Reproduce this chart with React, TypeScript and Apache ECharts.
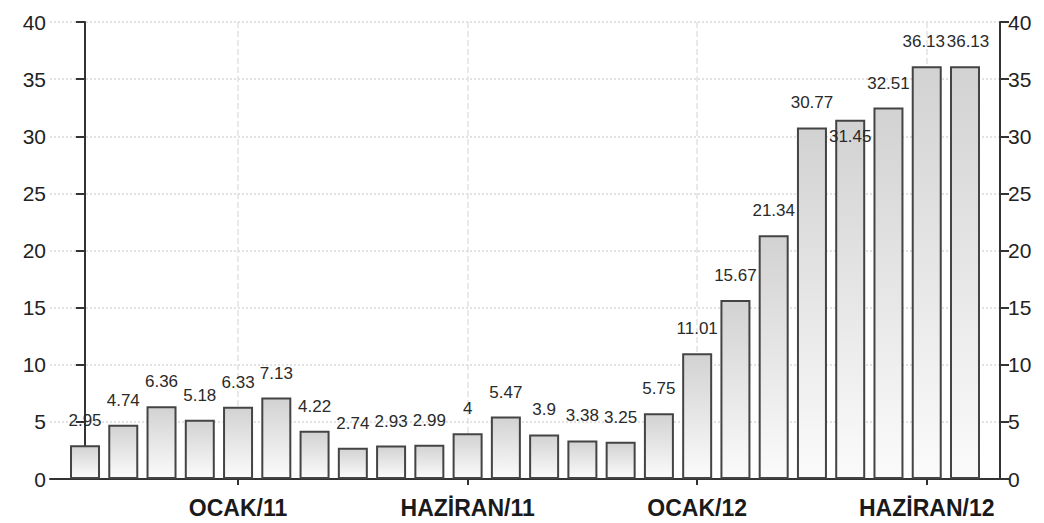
import React, { useEffect, useRef } from "react";
import * as echarts from "echarts";

const values = [2.95, 4.74, 6.36, 5.18, 6.33, 7.13, 4.22, 2.74, 2.93, 2.99, 4, 5.47, 3.9, 3.38, 3.25, 5.75, 11.01, 15.67, 21.34, 30.77, 31.45, 32.51, 36.13, 36.13];
const tickIndices = [4, 10, 16, 22];
const tickLabels = ["OCAK/11", "HAZİRAN/11", "OCAK/12", "HAZİRAN/12"];
const yMin = 0;
const yMax = 40;
const yStep = 5;
const insideLabelIndex = 20;

const FONT = "'Liberation Sans', Arial, sans-serif";

export default function App() {
  const ref = useRef<HTMLDivElement>(null);
  useEffect(() => {
    document.body.style.margin = "0";
    const chart = echarts.init(ref.current!, null, { renderer: "svg" });
    const yAxisBase = {
      type: "value",
      min: yMin,
      max: yMax,
      interval: yStep,
      axisLine: { show: true, lineStyle: { color: "#333", width: 2 } },
      axisTick: { show: true, length: 9, lineStyle: { color: "#333", width: 2 } },
    };
    const n = values.length;
    chart.setOption({
      animation: false,
      backgroundColor: "#fff",
      grid: { left: 50, right: 44, top: 22, bottom: 44 },
      xAxis: {
        type: "value",
        min: -0.915,
        max: 23.915,
        axisLine: { show: true, lineStyle: { color: "#333", width: 2 } },
        axisTick: { show: true, customValues: tickIndices, length: 6, lineStyle: { color: "#333", width: 2 } },
        axisLabel: {
          customValues: tickIndices,
          formatter: (v: number) => tickLabels[tickIndices.indexOf(Math.round(v))] ?? "",
          color: "#1a1a1a",
          fontSize: 23,
          fontWeight: "bold",
          fontFamily: FONT,
          margin: 17,
        },
        splitLine: { show: true, lineStyle: { color: "#e2e2e2", type: "dashed", width: 1.5 } },
      },
      yAxis: [
        {
          ...yAxisBase,
          position: "left",
          axisLabel: { color: "#222", fontSize: 21, fontFamily: FONT, margin: 4 },
          splitLine: { show: true, lineStyle: { color: "#e2e2e2", type: "dotted", width: 2 } },
        },
        {
          ...yAxisBase,
          position: "right",
          axisLabel: { color: "#222", fontSize: 21, fontFamily: FONT, margin: 8 },
          splitLine: { show: false },
        },
      ],
      series: [
        {
          type: "bar",
          yAxisIndex: 0,
          barWidth: 30,
          data: values.map((v, i) => {
            if (i === insideLabelIndex) {
              return { value: [i, v], label: { position: "insideTop", distance: 8 } };
            }
            if (i === n - 2) return { value: [i, v], label: { offset: [-3, 0] } };
            if (i === n - 1) return { value: [i, v], label: { offset: [3, 0] } };
            return { value: [i, v] };
          }),
          itemStyle: {
            color: new echarts.graphic.LinearGradient(0, 0, 0, 1, [
              { offset: 0, color: "#d2d2d2" },
              { offset: 1, color: "#fbfbfb" },
            ]),
            borderColor: "#444",
            borderWidth: 2,
          },
          label: {
            show: true,
            position: "top",
            distance: 16,
            color: "#2a2a2a",
            fontSize: 17,
            fontFamily: FONT,
            formatter: (p: any) => String(p.value[1]),
          },
        },
      ],
    });
    return () => chart.dispose();
  }, []);
  return <div ref={ref} style={{ width: 1044, height: 523 }} />;
}
